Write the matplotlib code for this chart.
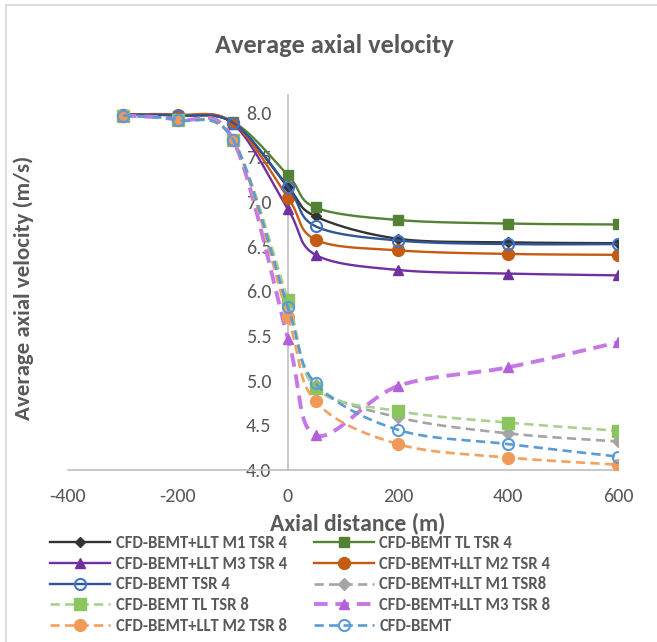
import numpy as np
import matplotlib
matplotlib.use("Agg")
import matplotlib.pyplot as plt
from matplotlib.lines import Line2D
from matplotlib import font_manager

# axial positions (m)
x_dist = [-300, -200, -100, 0, 50, 200, 400, 600]

m1_tsr4 = [7.98, 7.97, 7.89, 7.17, 6.84, 6.59, 6.55, 6.54]
tl_tsr4 = [7.98, 7.97, 7.90, 7.30, 6.94, 6.80, 6.76, 6.75]
m3_tsr4 = [7.98, 7.97, 7.88, 6.92, 6.41, 6.24, 6.20, 6.18]
m2_tsr4 = [7.98, 7.98, 7.89, 7.05, 6.58, 6.46, 6.42, 6.41]
bemt_tsr4 = [7.98, 7.97, 7.89, 7.17, 6.73, 6.57, 6.53, 6.53]
m1_tsr8 = [7.97, 7.92, 7.70, 5.85, 4.95, 4.59, 4.41, 4.32]
tl_tsr8 = [7.97, 7.92, 7.70, 5.90, 4.92, 4.66, 4.53, 4.44]
m3_tsr8 = [7.97, 7.92, 7.70, 5.47, 4.39, 4.94, 5.15, 5.43]
m2_tsr8 = [7.97, 7.92, 7.70, 5.71, 4.77, 4.29, 4.14, 4.06]
bemt = [7.97, 7.92, 7.70, 5.82, 4.97, 4.45, 4.29, 4.15]

x_ticks = [-400, -200, 0, 200, 400, 600]
y_ticks = [4.0, 4.5, 5.0, 5.5, 6.0, 6.5, 7.0, 7.5, 8.0]

names = [f.name for f in font_manager.fontManager.ttflist]
font = "Roboto"
for f in ["Carlito", "Liberation Sans Narrow"]:
    if f in names:
        font = f
        break
plt.rcParams["font.family"] = [font, "DejaVu Sans"]
plt.rcParams["axes.unicode_minus"] = False
txt = "#595959"

# label, values, line colour, marker, marker size, marker colour, hollow, dashed, lw
series = [
    ("CFD-BEMT+LLT M1 TSR 4", m1_tsr4, "#333333", "D", 5, "#333333", False, False, 1.7),
    ("CFD-BEMT TL TSR 4", tl_tsr4, "#548235", "s", 7, "#548235", False, False, 1.7),
    ("CFD-BEMT+LLT M3 TSR 4", m3_tsr4, "#7030A0", "^", 7, "#7030A0", False, False, 1.7),
    ("CFD-BEMT+LLT M2 TSR 4", m2_tsr4, "#C55A11", "o", 8.5, "#C55A11", False, False, 1.7),
    ("CFD-BEMT TSR 4", bemt_tsr4, "#2F5597", "o", 8, "#4472C4", True, False, 1.7),
    ("CFD-BEMT+LLT M1 TSR8", m1_tsr8, "#A5A5A5", "D", 6.5, "#A5A5A5", False, True, 1.9),
    ("CFD-BEMT TL TSR 8", tl_tsr8, "#A9D18E", "s", 8, "#8CC45E", False, True, 1.9),
    ("CFD-BEMT+LLT M3 TSR 8", m3_tsr8, "#C678E6", "^", 7, "#B35FDB", False, True, 2.8),
    ("CFD-BEMT+LLT M2 TSR 8", m2_tsr8, "#F4A05E", "o", 8.5, "#F19A57", False, True, 1.9),
    ("CFD-BEMT", bemt, "#5B9BD5", "o", 8, "#5B9BD5", True, True, 1.9),
]


def smooth(xs, ys, n=40):
    # excel-like smoothed line (catmull-rom as bezier)
    p = np.column_stack([xs, ys]).astype(float)
    out = [p[0]]
    for i in range(len(p) - 1):
        p0 = p[max(i - 1, 0)]
        p1 = p[i]
        p2 = p[i + 1]
        p3 = p[min(i + 2, len(p) - 1)]
        c1 = p1 + (p2 - p0) / 6
        c2 = p2 - (p3 - p1) / 6
        t = np.linspace(0, 1, n)[1:, None]
        seg = (1 - t) ** 3 * p1 + 3 * (1 - t) ** 2 * t * c1 + 3 * (1 - t) * t ** 2 * c2 + t ** 3 * p2
        out.extend(seg)
    out = np.array(out)
    return out[:, 0], out[:, 1]


fig = plt.figure(figsize=(6.57, 6.42), dpi=100)
ax = fig.add_axes([68 / 657, 1 - 470 / 642, 550 / 657, 375 / 642])

handles = []
for k, (lab, vals, lc, mk, ms, mc, hollow, dashed, lw) in enumerate(series):
    sx, sy = smooth(x_dist, vals)
    ls = (0, (3.5, 2)) if dashed else "-"
    ax.plot(sx, sy, color=lc, lw=lw, ls=ls, zorder=2 + k, solid_capstyle="butt")
    fc = "none" if hollow else mc
    ax.plot(x_dist, vals, ls="none", marker=mk, ms=ms, mfc=fc, mec=mc,
            mew=1.5 if hollow else 1, zorder=2 + k)
    handles.append(Line2D([], [], color=lc, lw=lw, ls=ls, marker=mk, ms=ms,
                          mfc=fc, mec=mc, mew=1.5 if hollow else 1, label=lab))

ax.set_xlim(-400, 600)
ax.set_ylim(4.0, 8.2)
ax.set_xticks(x_ticks)
ax.set_yticks(y_ticks)
ax.set_yticklabels([f"{v:.1f}" for v in y_ticks])
ax.spines["left"].set_position(("data", 0))
for s in ["top", "right"]:
    ax.spines[s].set_visible(False)
for s in ["left", "bottom"]:
    ax.spines[s].set_color("#BFBFBF")
    ax.spines[s].set_linewidth(1.2)
ax.spines["left"].set_zorder(1)
ax.tick_params(axis="both", length=0, labelsize=14.5, colors=txt)
ax.tick_params(axis="x", pad=13)
ax.tick_params(axis="y", pad=12)
ax.patch.set_alpha(0)

fig.text(334 / 657, 1 - 53 / 642, "Average axial velocity", ha="center", va="baseline",
         fontsize=19, fontweight="bold", color=txt)
fig.text(24 / 657, 1 - 288 / 642, "Average axial velocity (m/s)", ha="center", va="center",
         rotation=90, fontsize=16.5, fontweight="bold", color=txt)
fig.text(358 / 657, 1 - 530 / 642, "Axial distance (m)", ha="center", va="baseline",
         fontsize=17, fontweight="bold", color=txt)

order = [0, 2, 4, 6, 8, 1, 3, 5, 7, 9]
leg = fig.legend([handles[i] for i in order], [handles[i].get_label() for i in order],
                 ncol=2, loc="upper left", bbox_to_anchor=(50 / 657, 1 - 535 / 642),
                 frameon=False, handlelength=3.6, handletextpad=0.35,
                 columnspacing=1.6, labelspacing=0.28, borderaxespad=0, borderpad=0,
                 prop={"weight": "bold", "size": 12})
for t in leg.get_texts():
    t.set_color(txt)

# chart border
fig.add_artist(Line2D([6 / 657, 1], [1 - 5 / 642, 1 - 5 / 642], color="#D9D9D9", lw=1.2))
fig.add_artist(Line2D([6 / 657, 6 / 657], [0, 1 - 5 / 642], color="#D9D9D9", lw=1.2))

fig.savefig("out.png", dpi=100)
